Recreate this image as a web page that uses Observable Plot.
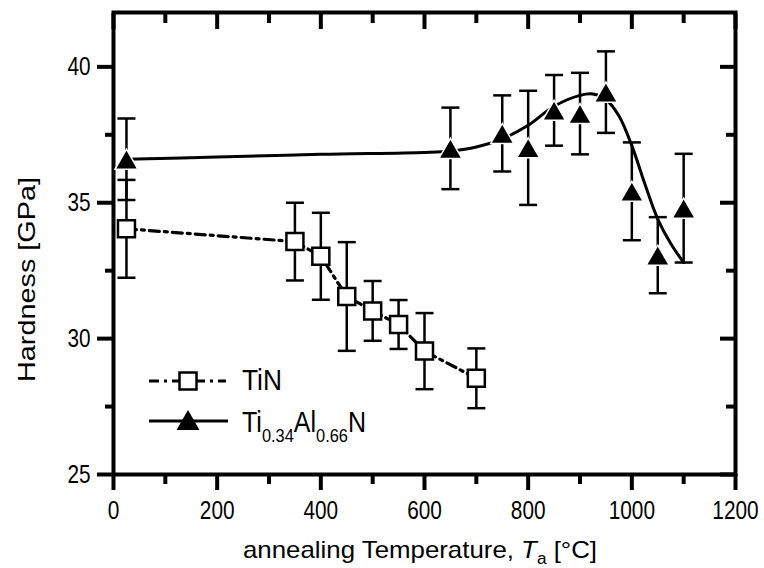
<!DOCTYPE html>
<html>
<head>
<meta charset="utf-8">
<script src="https://cdn.jsdelivr.net/npm/d3@7"></script>
<script src="https://cdn.jsdelivr.net/npm/@observablehq/plot@0.6"></script>
<style>
  html, body { margin: 0; padding: 0; background: #fff; }
  #chart svg { display: block; }
</style>
</head>
<body>
<div id="chart"></div>
<script>
// ---- data ----
const tinTemp = [25, 350, 400, 450, 500, 550, 600, 700];
const tinHard = [34.04, 33.57, 33.03, 31.55, 31.02, 30.52, 29.54, 28.54];
const tinErr  = [1.8, 1.43, 1.6, 2.0, 1.1, 0.9, 1.4, 1.1];

const tialTemp = [25, 650, 750, 800, 850, 900, 950, 1000, 1050, 1100];
const tialHard = [36.6, 37.0, 37.55, 37.02, 38.4, 38.28, 39.07, 35.42, 33.07, 34.8];
const tialErr  = [1.5, 1.5, 1.4, 2.1, 1.3, 1.5, 1.5, 1.8, 1.4, 2.0];

// fitted curve through Ti0.34Al0.66N
const fitTemp = [25, 200, 400, 600, 650, 700, 750, 800, 850, 900, 925, 950, 975, 1000, 1025, 1050, 1075, 1100];
const fitHard = [36.6, 36.68, 36.78, 36.85, 36.9, 37.05, 37.35, 37.85, 38.55, 38.95, 39.0, 38.8, 38.2, 37.1, 35.7, 34.4, 33.5, 32.8];

const xTicks = [0, 200, 400, 600, 800, 1000, 1200];
const xMinor = [100, 300, 500, 700, 900, 1100];
const yTicks = [25, 30, 35, 40];
const yMinor = [27.5, 32.5, 37.5];

const seriesNames = ["TiN", "Ti0.34Al0.66N"];

// ---- build tables ----
const tin = tinTemp.map((t, i) => ({t, h: tinHard[i], lo: tinHard[i] - tinErr[i], hi: tinHard[i] + tinErr[i]}));
const tial = tialTemp.map((t, i) => ({t, h: tialHard[i], lo: tialHard[i] - tialErr[i], hi: tialHard[i] + tialErr[i]}));
const fit = fitTemp.map((t, i) => ({t, h: fitHard[i]}));

const sans = '"Liberation Sans", Arial, sans-serif';

const capSymbol = {draw(ctx, size) { const r = Math.sqrt(size / Math.PI); ctx.moveTo(-r, 0); ctx.lineTo(r, 0); }};
const triSymbol = {draw(ctx, size) {
  const r = Math.sqrt(size / Math.PI); const h = r * 0.87;
  ctx.moveTo(0, -h); ctx.lineTo(r, h); ctx.lineTo(-r, h); ctx.closePath();
}};
const sqSymbol = {draw(ctx, size) {
  const r = Math.sqrt(size / Math.PI); ctx.rect(-r, -r, 2 * r, 2 * r);
}};

const ax = {strokeWidth: 4, label: null};

const chart = Plot.plot({
  width: 764, height: 568,
  marginLeft: 113, marginRight: 29, marginTop: 12, marginBottom: 94,
  x: {domain: [0, 1200]},
  y: {domain: [25, 42]},
  style: {fontFamily: sans, background: "white", color: "black", overflow: "visible"},
  marks: [
    Plot.axisX({...ax, anchor: "bottom", ticks: xTicks, tickSize: 16, tickPadding: 10, fontSize: 26, tickFormat: d => String(d)}),
    Plot.axisX({...ax, anchor: "bottom", ticks: xMinor, tickSize: 10, text: null}),
    Plot.axisX({...ax, anchor: "top", ticks: xTicks, tickSize: -16, text: null}),
    Plot.axisX({...ax, anchor: "top", ticks: xMinor, tickSize: -10, text: null}),
    Plot.axisY({...ax, anchor: "left", ticks: yTicks, tickSize: 16, tickPadding: 7, fontSize: 26, tickFormat: d => String(d)}),
    Plot.axisY({...ax, anchor: "left", ticks: yMinor, tickSize: 8, text: null}),
    Plot.axisY({...ax, anchor: "right", ticks: yTicks, tickSize: -16, text: null}),
    Plot.axisY({...ax, anchor: "right", ticks: yMinor, tickSize: -10, text: null}),
    Plot.frame({stroke: "black", strokeWidth: 4}),
    // error bars
    Plot.ruleX(tin, {x: "t", y1: "lo", y2: "hi", stroke: "black", strokeWidth: 2.5}),
    Plot.dot(tin, {x: "t", y: "hi", symbol: capSymbol, r: 9, stroke: "black", strokeWidth: 2.5}),
    Plot.dot(tin, {x: "t", y: "lo", symbol: capSymbol, r: 9, stroke: "black", strokeWidth: 2.5}),
    Plot.ruleX(tial, {x: "t", y1: "lo", y2: "hi", stroke: "black", strokeWidth: 2.5}),
    Plot.dot(tial, {x: "t", y: "hi", symbol: capSymbol, r: 9, stroke: "black", strokeWidth: 2.5}),
    Plot.dot(tial, {x: "t", y: "lo", symbol: capSymbol, r: 9, stroke: "black", strokeWidth: 2.5}),
    // lines
    Plot.line(tin, {x: "t", y: "h", stroke: "black", strokeWidth: 3.2, strokeDasharray: "10,5,3,5"}),
    Plot.line(fit, {x: "t", y: "h", stroke: "black", strokeWidth: 3, curve: "catmull-rom"}),
    // markers
    Plot.dot(tin, {x: "t", y: "h", symbol: sqSymbol, r: 8.5, fill: "white", stroke: "black", strokeWidth: 2.5}),
    Plot.dot(tial, {x: "t", y: "h", symbol: triSymbol, r: 11.5, fill: "black", stroke: "white", strokeWidth: 1.5})
  ]
});

document.getElementById("chart").appendChild(chart);

const svg = d3.select(chart);

// condense tick labels horizontally like the reference
svg.selectAll('g[aria-label="x-axis tick label"] text, g[aria-label="y-axis tick label"] text').each(function() {
  const w = this.getComputedTextLength();
  this.setAttribute("textLength", (w * 0.8).toFixed(1));
  this.setAttribute("lengthAdjust", "spacingAndGlyphs");
});

// ---- titles ----
const xt = svg.append("text")
  .attr("x", 243).attr("y", 558).attr("text-anchor", "start")
  .attr("font-family", sans).attr("font-size", 24).attr("fill", "black")
  .attr("textLength", 354).attr("lengthAdjust", "spacingAndGlyphs");
xt.append("tspan").text("annealing Temperature, ");
xt.append("tspan").attr("font-style", "italic").text("T");
xt.append("tspan").attr("font-size", 16).attr("dy", 6).text("a");
xt.append("tspan").attr("dy", -6).text(" [°C]");

svg.append("text")
  .attr("transform", "translate(35,382) rotate(-90)")
  .attr("text-anchor", "start")
  .attr("font-family", sans).attr("font-size", 24).attr("fill", "black")
  .attr("textLength", 205).attr("lengthAdjust", "spacingAndGlyphs")
  .text("Hardness [GPa]");

// ---- legend ----
const lg = svg.append("g");
lg.append("line").attr("x1", 149).attr("x2", 226).attr("y1", 381).attr("y2", 381)
  .attr("stroke", "black").attr("stroke-width", 3.2).attr("stroke-dasharray", "10,5,3,5");
lg.append("rect").attr("x", 179.5).attr("y", 372.5).attr("width", 17).attr("height", 17)
  .attr("fill", "white").attr("stroke", "black").attr("stroke-width", 2.5);
lg.append("line").attr("x1", 149).attr("x2", 228).attr("y1", 421).attr("y2", 421)
  .attr("stroke", "black").attr("stroke-width", 3.2);
lg.append("path").attr("d", d3.symbol(triSymbol, Math.PI * 11.5 * 11.5)()).attr("transform", "translate(188,420)")
  .attr("fill", "black");
lg.append("text").attr("x", 242).attr("y", 390).attr("text-anchor", "start")
  .attr("font-family", sans).attr("font-size", 29)
  .attr("textLength", 40).attr("lengthAdjust", "spacingAndGlyphs")
  .attr("fill", "black").text(seriesNames[0]);
const t2 = lg.append("text").attr("x", 242).attr("y", 432).attr("text-anchor", "start")
  .attr("font-family", sans).attr("font-size", 29).attr("fill", "black")
  .attr("textLength", 124).attr("lengthAdjust", "spacingAndGlyphs");
t2.append("tspan").text("Ti");
t2.append("tspan").attr("font-size", 19).attr("dy", 10).text("0.34");
t2.append("tspan").attr("dy", -10).text("Al");
t2.append("tspan").attr("font-size", 19).attr("dy", 10).text("0.66");
t2.append("tspan").attr("dy", -10).text("N");
</script>
</body>
</html>
